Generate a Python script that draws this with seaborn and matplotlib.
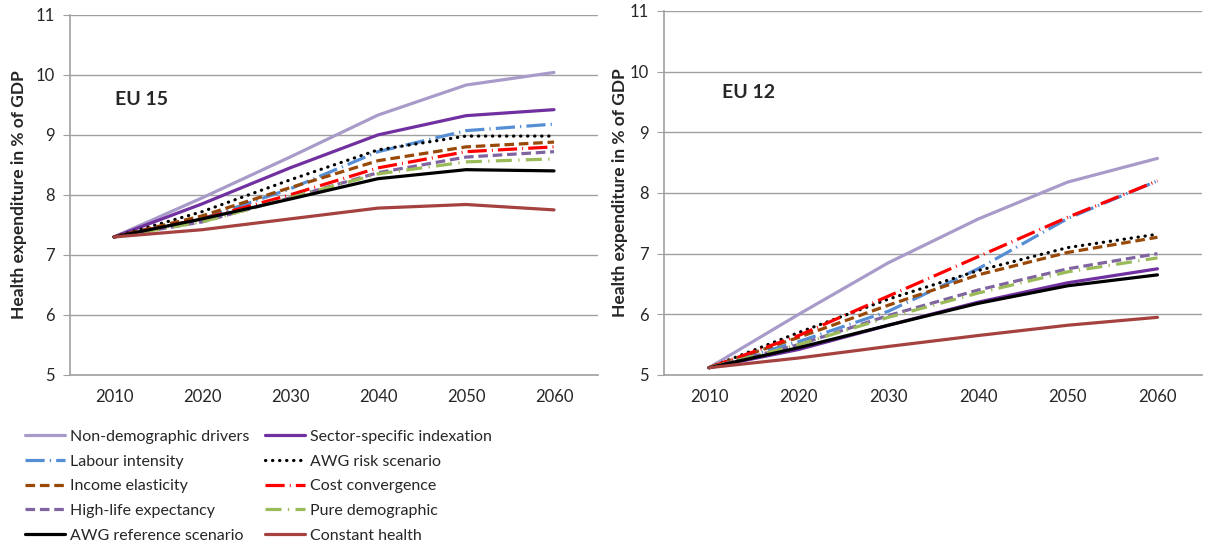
import matplotlib
matplotlib.use('Agg')
import matplotlib.pyplot as plt
import seaborn as sns

# Years on the x axis
years = [2010, 2020, 2030, 2040, 2050, 2060]

# EU 15 projections (% of GDP)
eu15_non_demographic = [7.3, 7.95, 8.63, 9.33, 9.83, 10.04]
eu15_sector_specific = [7.3, 7.85, 8.45, 9.0, 9.32, 9.42]
eu15_labour_intensity = [7.3, 7.6, 8.1, 8.72, 9.07, 9.18]
eu15_awg_risk = [7.3, 7.72, 8.25, 8.75, 8.98, 8.98]
eu15_income_elasticity = [7.3, 7.65, 8.12, 8.57, 8.8, 8.88]
eu15_cost_convergence = [7.3, 7.6, 8.0, 8.45, 8.72, 8.8]
eu15_high_life = [7.3, 7.55, 7.95, 8.37, 8.63, 8.72]
eu15_pure_demographic = [7.3, 7.55, 7.95, 8.35, 8.55, 8.6]
eu15_awg_reference = [7.3, 7.6, 7.93, 8.27, 8.42, 8.4]
eu15_constant_health = [7.3, 7.42, 7.6, 7.78, 7.84, 7.75]

# EU 12 projections (% of GDP)
eu12_non_demographic = [5.12, 6.0, 6.85, 7.57, 8.18, 8.57]
eu12_sector_specific = [5.12, 5.42, 5.82, 6.2, 6.52, 6.75]
eu12_labour_intensity = [5.12, 5.55, 6.05, 6.75, 7.58, 8.2]
eu12_awg_risk = [5.12, 5.7, 6.25, 6.72, 7.1, 7.32]
eu12_income_elasticity = [5.12, 5.62, 6.15, 6.65, 7.02, 7.27]
eu12_cost_convergence = [5.12, 5.65, 6.3, 6.95, 7.6, 8.2]
eu12_high_life = [5.12, 5.5, 5.98, 6.4, 6.75, 7.0]
eu12_pure_demographic = [5.12, 5.5, 5.95, 6.35, 6.7, 6.93]
eu12_awg_reference = [5.12, 5.45, 5.82, 6.18, 6.47, 6.65]
eu12_constant_health = [5.12, 5.28, 5.47, 5.65, 5.82, 5.95]

series_names = ['Non-demographic drivers', 'Sector-specific indexation', 'Labour intensity',
                'AWG risk scenario', 'Income elasticity', 'Cost convergence',
                'High-life expectancy', 'Pure demographic', 'AWG reference scenario',
                'Constant health']
eu15_values = [eu15_non_demographic, eu15_sector_specific, eu15_labour_intensity, eu15_awg_risk,
               eu15_income_elasticity, eu15_cost_convergence, eu15_high_life,
               eu15_pure_demographic, eu15_awg_reference, eu15_constant_health]
eu12_values = [eu12_non_demographic, eu12_sector_specific, eu12_labour_intensity, eu12_awg_risk,
               eu12_income_elasticity, eu12_cost_convergence, eu12_high_life,
               eu12_pure_demographic, eu12_awg_reference, eu12_constant_health]

# line styles per series
styles = {
    'Non-demographic drivers': dict(color='#A99BC9', linestyle='-'),
    'Sector-specific indexation': dict(color='#7030A0', linestyle='-'),
    'Labour intensity': dict(color='#558ED5', linestyle=(0, (6, 1.6, 0.4, 1.6))),
    'AWG risk scenario': dict(color='black', linestyle=(0, (0.1, 2.1)), dash_capstyle='round'),
    'Income elasticity': dict(color='#984807', linestyle=(0, (3, 1.5))),
    'Cost convergence': dict(color='#FF0000', linestyle=(0, (6, 1.6, 0.3, 1.6))),
    'High-life expectancy': dict(color='#8064A2', linestyle=(0, (3, 1.5))),
    'Pure demographic': dict(color='#9BBB59', linestyle=(0, (5, 2, 0.4, 2))),
    'AWG reference scenario': dict(color='black', linestyle='-'),
    'Constant health': dict(color='#A5423F', linestyle='-'),
}

sns.set_style('white')
plt.rcParams['font.family'] = ['Lato', 'DejaVu Sans']

fig = plt.figure(figsize=(12.12, 5.49), dpi=100)
ax1 = fig.add_axes([0.0578, 0.317, 0.4356, 0.656])
ax2 = fig.add_axes([0.548, 0.317, 0.444, 0.663])


def draw_panel(ax, values, title, title_pos, label_x):
    for name, vals in zip(series_names, values):
        sns.lineplot(x=years, y=vals, ax=ax, label=name, linewidth=2.3, **styles[name])
    ax.set_xlim(2005, 2065)
    ax.set_ylim(5, 11)
    ax.set_yticks(range(5, 12))
    ax.set_xticks(years)
    ax.set_xticks(range(2005, 2066, 10), minor=True)
    ax.tick_params(axis='x', which='major', length=0, labelsize=12, pad=10)
    ax.tick_params(axis='x', which='minor', length=5, color='#A0A0A0', direction='out')
    ax.tick_params(axis='y', length=5, color='#A0A0A0', direction='out', labelsize=12,
                   left=True, pad=6)
    ax.grid(axis='y', color='#A0A0A0', linewidth=1)
    ax.grid(axis='x', visible=False)
    for side in ['top', 'right']:
        ax.spines[side].set_visible(False)
    for side in ['left', 'bottom']:
        ax.spines[side].set_color('#A0A0A0')
        ax.spines[side].set_linewidth(1.2)
    ax.set_ylabel('Health expenditure in % of GDP', fontsize=12.5, fontweight='bold')
    ax.yaxis.set_label_coords(label_x, 0.5)
    ax.set_xlabel('')
    ax.text(title_pos[0], title_pos[1], title, transform=ax.transAxes,
            fontsize=14, fontweight='bold', va='center')
    ax.set_axisbelow(True)
    ax.get_legend().remove()


draw_panel(ax1, eu15_values, 'EU 15', (0.085, 0.764), -0.082)
draw_panel(ax2, eu12_values, 'EU 12', (0.108, 0.775), -0.068)

# legend below the left panel, two columns
handles, labels = ax1.get_legend_handles_labels()
order = [0, 2, 4, 6, 8, 1, 3, 5, 7, 9]
fig.legend([handles[i] for i in order], [labels[i] for i in order],
           loc='upper left', bbox_to_anchor=(0.0154, 0.229), ncol=2, frameon=False,
           fontsize=11.5, handlelength=2.5, handletextpad=0.3, columnspacing=1.0,
           labelspacing=0.66, borderaxespad=0)

fig.savefig('out.png', dpi=100)
